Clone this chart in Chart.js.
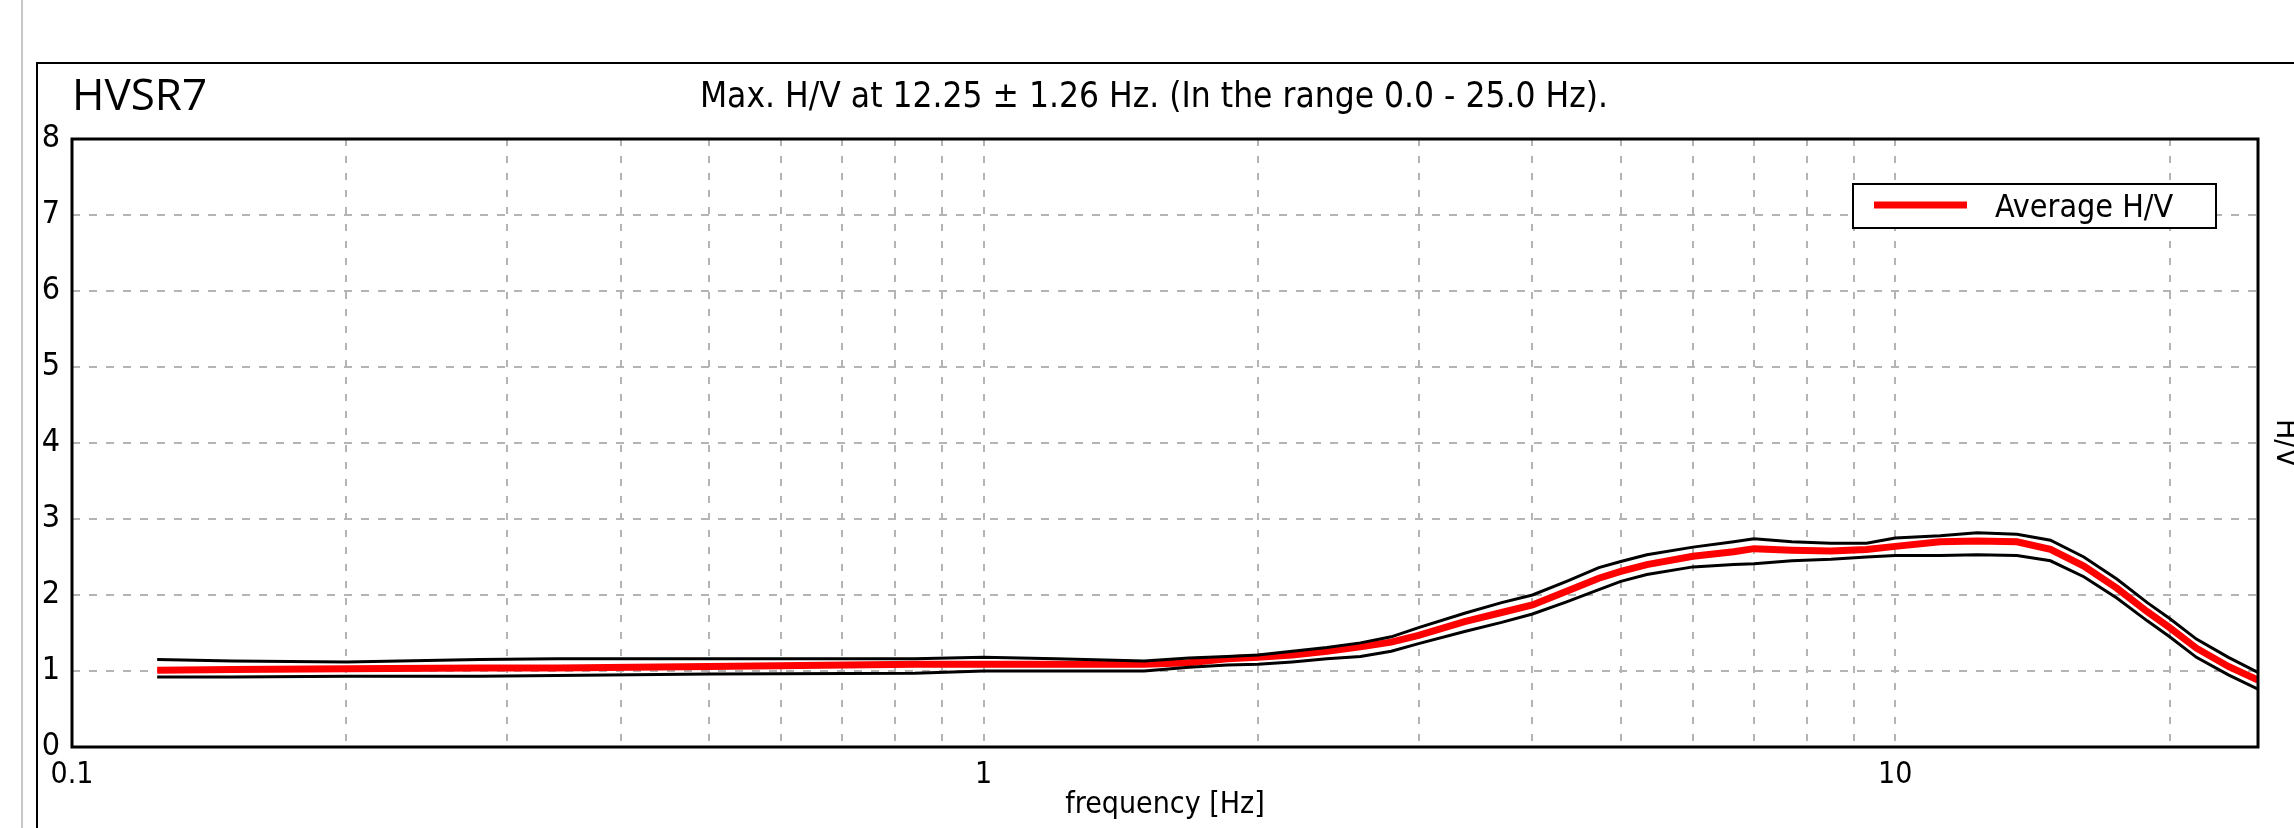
<!DOCTYPE html>
<html>
<head>
<meta charset="utf-8">
<title>HVSR7</title>
<script src="https://cdn.jsdelivr.net/npm/chart.js@4.4.1/dist/chart.umd.min.js"></script>
<style>
    html, body { margin: 0; padding: 0; background: #fff; overflow: hidden; }
    #wrap { width: 2294px; height: 828px; }
</style>
</head>
<body>
<div id="wrap"><canvas id="hvsrChart" width="2294" height="828"></canvas></div>
<script>
// frecuencias (Hz) y curvas H/V
const freqHz = [0.124, 0.15, 0.2, 0.28, 0.34, 0.5, 0.84, 1.0, 1.2, 1.5, 1.68, 1.85, 2.0, 2.18, 2.38, 2.59, 2.8, 3.0, 3.37, 3.7, 4.0, 4.36, 4.73, 5.0, 5.34, 6.0, 6.65, 7.0, 7.7, 8.5, 9.3, 10.0, 11.2, 12.3, 13.6, 14.8, 16.1, 17.5, 18.9, 20.0, 21.4, 23.2, 25.0];
const hvAverage = [1.01, 1.02, 1.03, 1.04, 1.04, 1.06, 1.09, 1.09, 1.09, 1.09, 1.11, 1.16, 1.18, 1.21, 1.26, 1.32, 1.38, 1.47, 1.65, 1.77, 1.87, 2.05, 2.22, 2.31, 2.40, 2.51, 2.57, 2.61, 2.59, 2.58, 2.60, 2.64, 2.70, 2.71, 2.70, 2.60, 2.38, 2.09, 1.78, 1.57, 1.30, 1.06, 0.88];
const hvUpper = [1.15, 1.13, 1.12, 1.15, 1.16, 1.16, 1.16, 1.18, 1.16, 1.13, 1.17, 1.19, 1.21, 1.26, 1.31, 1.37, 1.45, 1.57, 1.76, 1.90, 2.00, 2.18, 2.36, 2.44, 2.53, 2.63, 2.70, 2.74, 2.70, 2.68, 2.68, 2.75, 2.78, 2.82, 2.80, 2.72, 2.50, 2.21, 1.90, 1.69, 1.42, 1.18, 0.98];
const hvLower = [0.92, 0.92, 0.93, 0.93, 0.94, 0.96, 0.97, 1.00, 1.00, 1.00, 1.05, 1.08, 1.09, 1.12, 1.16, 1.19, 1.26, 1.36, 1.52, 1.64, 1.75, 1.91, 2.07, 2.18, 2.27, 2.37, 2.40, 2.41, 2.45, 2.47, 2.50, 2.52, 2.52, 2.53, 2.52, 2.45, 2.24, 1.96, 1.66, 1.45, 1.18, 0.95, 0.76];

// lineas de la grilla del eje x y etiquetas visibles
const xGridTicks = [0.1, 0.2, 0.3, 0.4, 0.5, 0.6, 0.7, 0.8, 0.9, 1, 2, 3, 4, 5, 6, 7, 8, 9, 10, 20];
const xTickLabels = { 0.1: '0.1', 1: '1', 10: '10' };

const plotTitle = 'HVSR7';
const plotSubtitle = 'Max. H/V at 12.25 \u00b1 1.26 Hz. (In the range 0.0 - 25.0 Hz).';

const NARROW = '"Liberation Sans Narrow", "Arial Narrow", "DejaVu Sans Condensed", Arial, sans-serif';
const GRID_COLOR = '#b4b4b4';

const toPoints = (ys) => freqHz.map((f, i) => ({ x: f, y: ys[i] }));

// marco exterior, titulos, borde del area y leyenda
const framePlugin = {
    id: 'hvsrFrame',
    beforeDraw(chart) {
        const ctx = chart.ctx;
        ctx.save();
        ctx.fillStyle = '#fff';
        ctx.fillRect(0, 0, chart.width, chart.height);
        ctx.fillStyle = '#c8c8c8';
        ctx.fillRect(21, 0, 2, chart.height);
        ctx.strokeStyle = '#000';
        ctx.lineWidth = 2;
        ctx.beginPath();
        ctx.moveTo(37, chart.height + 5);
        ctx.lineTo(37, 63);
        ctx.lineTo(chart.width + 5, 63);
        ctx.stroke();

        ctx.fillStyle = '#000';
        ctx.textBaseline = 'alphabetic';
        ctx.font = '44px "Open Sans", "Noto Sans", sans-serif';
        ctx.textAlign = 'left';
        ctx.fillText(plotTitle, 72, 110);
        ctx.font = '35px ' + NARROW;
        ctx.textAlign = 'center';
        ctx.fillText(plotSubtitle, 1154, 107);
        ctx.restore();
    },
    afterDatasetsDraw(chart) {
        const { ctx, chartArea: a } = chart;
        ctx.save();
        ctx.strokeStyle = '#000';
        ctx.lineWidth = 3;
        ctx.strokeRect(a.left, a.top, a.right - a.left, a.bottom - a.top);

        // leyenda
        const ds = chart.data.datasets[2];
        ctx.fillStyle = '#fff';
        ctx.fillRect(1853, 184, 363, 44);
        ctx.lineWidth = 2;
        ctx.strokeRect(1853, 184, 363, 44);
        ctx.strokeStyle = ds.borderColor;
        ctx.lineWidth = 7;
        ctx.beginPath();
        ctx.moveTo(1874, 205);
        ctx.lineTo(1967, 205);
        ctx.stroke();
        ctx.fillStyle = '#000';
        ctx.font = '32px ' + NARROW;
        ctx.textAlign = 'left';
        ctx.textBaseline = 'alphabetic';
        ctx.fillText(ds.label, 1995, 217);
        ctx.restore();
    }
};

const ctx = document.getElementById('hvsrChart').getContext('2d');
const hvsrChart = new Chart(ctx, {
    type: 'line',
    data: {
        datasets: [{
            label: 'H/V upper',
            data: toPoints(hvUpper),
            borderColor: '#000',
            borderWidth: 3,
            pointRadius: 0,
            tension: 0,
            fill: false
        }, {
            label: 'H/V lower',
            data: toPoints(hvLower),
            borderColor: '#000',
            borderWidth: 3,
            pointRadius: 0,
            tension: 0,
            fill: false
        }, {
            label: 'Average H/V',
            data: toPoints(hvAverage),
            borderColor: '#ff0000',
            borderWidth: 7,
            pointRadius: 0,
            tension: 0,
            fill: false
        }]
    },
    options: {
        responsive: false,
        animation: false,
        devicePixelRatio: 1,
        layout: { padding: { top: 139, left: 0, right: 0, bottom: 0 } },
        plugins: {
            legend: { display: false },
            title: { display: false },
            tooltip: { enabled: false }
        },
        scales: {
            x: {
                type: 'logarithmic',
                min: 0.1,
                max: 25,
                afterFit: (s) => { s.height = 81; },
                afterBuildTicks: (s) => { s.ticks = xGridTicks.map(v => ({ value: v })); },
                grid: { color: GRID_COLOR, lineWidth: 2, drawTicks: false },
                border: { display: false, dash: [7, 10] },
                ticks: {
                    autoSkip: false,
                    maxRotation: 0,
                    padding: 10,
                    color: '#000',
                    font: { family: NARROW, size: 30 },
                    callback: (v) => xTickLabels[v] || ''
                },
                title: {
                    display: true,
                    text: 'frequency [Hz]',
                    color: '#000',
                    font: { family: NARROW, size: 30, lineHeight: 1 },
                    padding: { top: 0, bottom: 8 }
                }
            },
            y: {
                position: 'left',
                min: 0,
                max: 8,
                afterFit: (s) => { s.width = 72; },
                grid: { color: GRID_COLOR, lineWidth: 2, drawTicks: false },
                border: { display: false, dash: [8, 9] },
                ticks: {
                    stepSize: 1,
                    padding: 12,
                    color: '#000',
                    font: { family: NARROW, size: 32 }
                }
            },
            y1: {
                position: 'right',
                min: 0,
                max: 8,
                afterFit: (s) => { s.width = 36; },
                grid: { display: false, drawTicks: false },
                border: { display: false },
                ticks: { display: false },
                title: {
                    display: true,
                    text: 'H/V',
                    color: '#000',
                    font: { family: NARROW, size: 30, lineHeight: 1 },
                    padding: { top: -6, bottom: 0 }
                }
            }
        }
    },
    plugins: [framePlugin]
});
</script>
</body>
</html>
